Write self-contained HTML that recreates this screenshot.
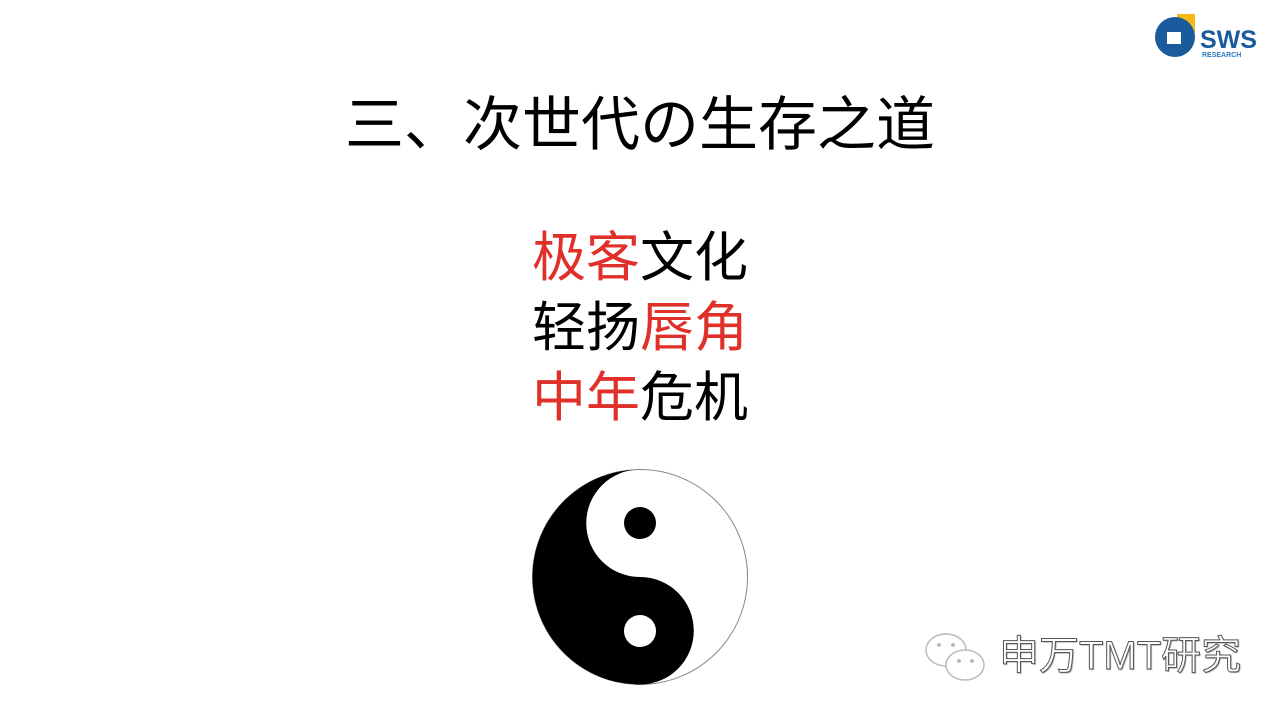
<!DOCTYPE html>
<html><head><meta charset="utf-8"><style>
body{margin:0;width:1280px;height:720px;background:#fff;overflow:hidden;position:relative;font-family:"Liberation Sans","Noto Sans CJK SC",sans-serif}
.t{position:absolute;white-space:nowrap}
.r{color:#e0302a}
</style></head><body>
<svg style="position:absolute;left:1150px;top:8px" width="125" height="52">
<rect x="27" y="6" width="18" height="18" fill="#f5b915"/>
<circle cx="25" cy="29" r="20" fill="#1a5b9e"/>
<rect x="17" y="24" width="14" height="12" fill="#fff"/>
<text x="50" y="40" font-family="Liberation Sans" font-weight="bold" font-size="25" fill="#1a5b9e">SWS</text>
<text x="52" y="49" font-family="Liberation Sans" font-weight="bold" font-size="7" fill="#2a7bc0">RESEARCH</text>
</svg>
<div class="t" style="left:0;width:1280px;text-align:center;top:88px;font-size:59px;line-height:74px">三、次世代の生存之道</div>
<div class="t" style="left:0;width:1280px;text-align:center;top:224px;font-size:54px;line-height:68px"><span class="r">极客</span>文化</div>
<div class="t" style="left:0;width:1280px;text-align:center;top:294px;font-size:54px;line-height:68px">轻扬<span class="r">唇角</span></div>
<div class="t" style="left:0;width:1280px;text-align:center;top:364px;font-size:54px;line-height:68px"><span class="r">中年</span>危机</div>
<svg style="position:absolute;left:0;top:0" width="1280" height="720">
<circle cx="640" cy="577" r="107.5" fill="#fff" stroke="#888" stroke-width="1"/>
<path d="M640 469.5 A107.5 107.5 0 0 0 640 684.5 A53.75 53.75 0 0 0 640 577 A53.75 53.75 0 0 1 640 469.5 Z" fill="#000"/>
<circle cx="640" cy="523" r="16" fill="#000"/>
<circle cx="640" cy="631" r="16" fill="#fff"/>
</svg>
<svg style="position:absolute;left:922px;top:628px" width="70" height="60">
<ellipse cx="24" cy="22" rx="20" ry="16" fill="#fff" stroke="#bbb" stroke-width="1.5"/>
<ellipse cx="43" cy="37" rx="19" ry="15" fill="#fff" stroke="#bbb" stroke-width="1.5"/>
<circle cx="17" cy="17" r="2" fill="#bbb"/><circle cx="31" cy="17" r="2" fill="#bbb"/>
<circle cx="37" cy="33" r="2" fill="#bbb"/><circle cx="50" cy="33" r="2" fill="#bbb"/>
</svg>
<div class="t" style="left:999px;top:632px;font-size:40px;line-height:48px;color:#fff;-webkit-text-stroke:1px #555;text-shadow:1px 1px 1px #999">申万TMT研究</div>
</body></html>
